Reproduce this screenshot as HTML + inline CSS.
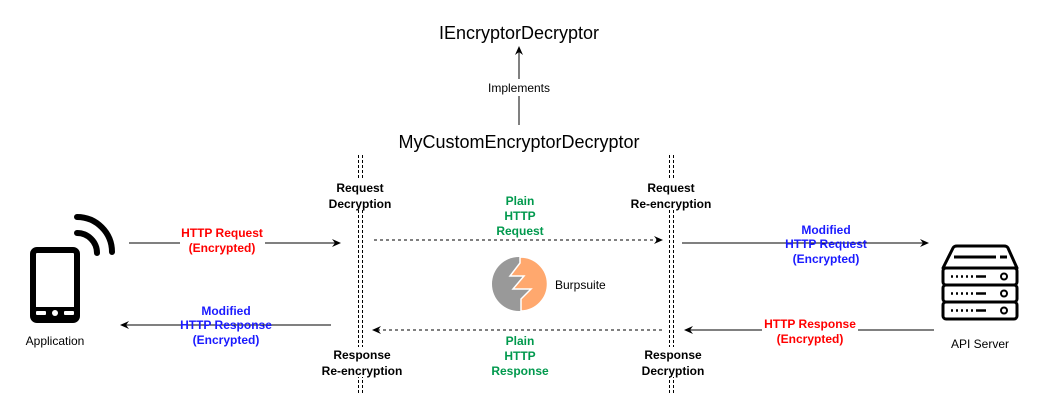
<!DOCTYPE html>
<html><head><meta charset="utf-8"><style>
body{margin:0;background:#fff;}
svg{display:block;font-family:"Liberation Sans",Arial,sans-serif;}
.b{font-weight:bold;font-size:12px;text-anchor:middle;}
</style></head><body>
<svg width="1043" height="411" viewBox="0 0 1043 411" xmlns="http://www.w3.org/2000/svg">
<defs>
<marker id="a" markerWidth="10" markerHeight="10" refX="8" refY="5" orient="auto" markerUnits="userSpaceOnUse">
<path d="M0,1 L9,5 L0,9 L3,5 Z" fill="#000"/></marker>
</defs>
<text x="519" y="39" font-size="18" text-anchor="middle">IEncryptorDecryptor</text>
<line x1="519" y1="125" x2="519" y2="47" stroke="#000" marker-end="url(#a)"/>
<rect x="483" y="79" width="72" height="17" fill="#fff"/>
<text x="519" y="92" font-size="12" text-anchor="middle">Implements</text>
<text x="519" y="148" font-size="18" text-anchor="middle">MyCustomEncryptorDecryptor</text>
<g stroke="#000" stroke-dasharray="3,2" stroke-width="1">
<line x1="358.5" y1="155" x2="358.5" y2="395"/><line x1="362.5" y1="155" x2="362.5" y2="395"/>
<line x1="669.5" y1="155" x2="669.5" y2="395"/><line x1="673.5" y1="155" x2="673.5" y2="395"/>
</g>
<g class="b">
<rect x="330" y="180" width="62" height="30" fill="#fff"/>
<text x="360" y="192">Request</text><text x="360" y="208">Decryption</text>
<rect x="640" y="180" width="74" height="30" fill="#fff"/>
<text x="671" y="192">Request</text><text x="671" y="208">Re-encryption</text>
<rect x="320" y="347" width="86" height="30" fill="#fff"/>
<text x="362" y="359">Response</text><text x="362" y="375">Re-encryption</text>
<rect x="640" y="347" width="66" height="30" fill="#fff"/>
<text x="673" y="359">Response</text><text x="673" y="375">Decryption</text>
</g>
<line x1="129" y1="243" x2="340" y2="243" stroke="#000" marker-end="url(#a)"/>
<rect x="180" y="225" width="85" height="30" fill="#fff"/>
<g class="b" fill="#f00"><text x="222" y="237">HTTP Request</text><text x="222" y="252">(Encrypted)</text></g>
<line x1="374" y1="240" x2="662" y2="240" stroke="#000" stroke-dasharray="3,3" marker-end="url(#a)"/>
<g class="b" fill="#00994d"><text x="520" y="205">Plain</text><text x="520" y="220">HTTP</text><text x="520" y="235">Request</text></g>
<line x1="682" y1="243" x2="928" y2="243" stroke="#000" marker-end="url(#a)"/>
<g class="b" fill="#1a1aff"><text x="826" y="234">Modified</text><text x="826" y="248">HTTP Request</text><text x="826" y="263">(Encrypted)</text></g>
<line x1="934" y1="330" x2="685" y2="330" stroke="#000" marker-end="url(#a)"/>
<rect x="762" y="318" width="96" height="30" fill="#fff"/>
<g class="b" fill="#f00"><text x="810" y="328">HTTP Response</text><text x="810" y="343">(Encrypted)</text></g>
<line x1="662" y1="330" x2="373" y2="330" stroke="#000" stroke-dasharray="3,3" marker-end="url(#a)"/>
<g class="b" fill="#00994d"><text x="520" y="345">Plain</text><text x="520" y="360">HTTP</text><text x="520" y="375">Response</text></g>
<line x1="331" y1="325" x2="121" y2="325" stroke="#000" marker-end="url(#a)"/>
<g class="b" fill="#1a1aff"><text x="226" y="315">Modified</text><text x="226" y="329">HTTP Response</text><text x="226" y="344">(Encrypted)</text></g>
<rect x="33" y="250" width="44" height="70" rx="4" fill="none" stroke="#000" stroke-width="6"/>
<rect x="36" y="307" width="38" height="12" fill="#000"/>
<rect x="36" y="311" width="10" height="4" fill="#fff" rx="1"/>
<rect x="64" y="311" width="10" height="4" fill="#fff" rx="1"/>
<circle cx="55" cy="313" r="3" fill="#fff"/>
<path d="M77,233 A20,20 0 0 1 97,253" fill="none" stroke="#000" stroke-width="6" stroke-linecap="round"/>
<path d="M77,217 A35,35 0 0 1 112,252" fill="none" stroke="#000" stroke-width="6" stroke-linecap="round"/>
<text x="55" y="345" font-size="12" text-anchor="middle">Application</text>
<g fill="none" stroke="#000" stroke-width="3" stroke-linejoin="round">
<path d="M943,268 L953,248 Q954,246 957,246 L1004,246 Q1007,246 1008,248 L1017,268 Z"/>
<rect x="943" y="268" width="74" height="17" rx="3"/>
<rect x="943" y="285" width="74" height="17" rx="3"/>
<rect x="943" y="302" width="74" height="17" rx="3"/>
<line x1="954" y1="257" x2="996" y2="257"/><line x1="1000" y1="257" x2="1007" y2="257"/>
</g>
<g stroke="#000" stroke-width="2.5">
<path d="M951,276.5h2M956,276.5h2M961,276.5h2M966,276.5h2M971,276.5h2M976,276.5h10"/>
<path d="M951,293.5h2M956,293.5h2M961,293.5h2M966,293.5h2M971,293.5h2M976,293.5h10"/>
<path d="M951,310.5h2M956,310.5h2M961,310.5h2M966,310.5h2M971,310.5h2M976,310.5h10"/>
</g>
<g fill="none" stroke="#000" stroke-width="2"><circle cx="1004" cy="276.5" r="3"/><circle cx="1004" cy="293.5" r="3"/><circle cx="1004" cy="310.5" r="3"/></g>
<text x="980" y="348" font-size="12" text-anchor="middle">API Server</text>
<circle cx="519" cy="284" r="27" fill="#999"/>
<path d="M520,257 A27,27 0 0 1 521,311 L521,299 L531,289 L513,289 L524,276 L510,276 L520,263 Z" fill="#ffa86e" stroke="#fff" stroke-width="1.5"/>
<text x="555" y="289" font-size="12">Burpsuite</text>
</svg>
</body></html>
